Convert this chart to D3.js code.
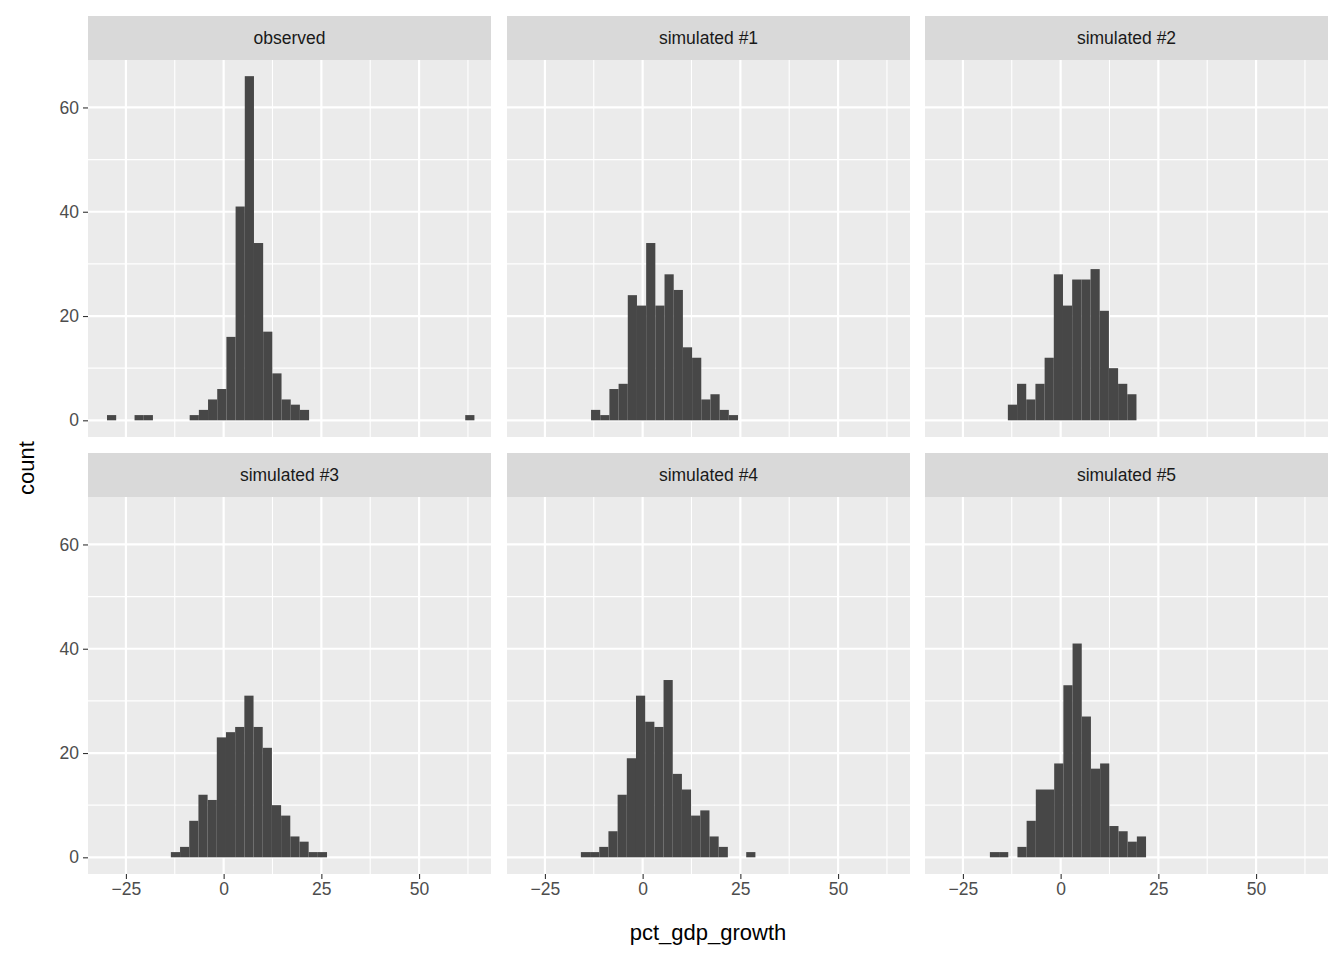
<!DOCTYPE html>
<html><head><meta charset="utf-8">
<script src="https://cdn.jsdelivr.net/npm/d3@7"></script>
<style>body{margin:0;background:#fff}</style>
</head><body>
<svg width="1344" height="960"></svg>
<script>
const panels = ["observed", "simulated #1", "simulated #2", "simulated #3", "simulated #4", "simulated #5"];
const binWidth = 2.35;
const binStarts = [-29.84, -13.2, -13.5, -13.5, -15.8, -18.1];
const counts = [
  [1,0,0,1,1,0,0,0,0,1,2,4,6,16,41,66,34,17,9,4,3,2,0,0,0,0,0,0,0,0,0,0,0,0,0,0,0,0,0,1],
  [2,1,6,7,24,22,34,22,28,25,14,12,4,5,2,1],
  [3,7,4,7,12,28,22,27,27,29,21,10,7,5],
  [1,2,7,12,11,23,24,25,31,25,21,10,8,4,3,1,1],
  [1,1,2,5,12,19,31,26,25,34,16,13,8,9,4,2,0,0,1],
  [1,1,0,2,7,13,13,18,33,41,27,17,18,6,5,3,4]
];
const xTicks = [-25, 0, 25, 50];
const yTicks = [0, 20, 40, 60];

const svg = d3.select("svg").attr("font-family", "Liberation Sans, Arial, sans-serif");
const colX = [88, 507, 925], pw = 403;
const rowY = [60, 497], ph = 377, stripH = 44;

const x = d3.scaleLinear().domain([-34.7, 68.4]).range([0, pw]);
const y = d3.scaleLinear().domain([-3.2, 69.1]).range([ph, 0]);

panels.forEach((name, i) => {
  const c = i % 3, r = Math.floor(i / 3);
  const g = svg.append("g").attr("transform", `translate(${colX[c]},${rowY[r]})`);
  g.append("rect").attr("width", pw).attr("height", ph).attr("fill", "#ebebeb");
  // minor grid
  g.selectAll(".mx").data(xTicks.map(t => t + 12.5).concat([-37.5])).join("line")
    .attr("x1", d => x(d)).attr("x2", d => x(d)).attr("y1", 0).attr("y2", ph)
    .attr("stroke", "#fff").attr("stroke-width", 1.1).filter(d => d < -34.7 || d > 68.4).remove();
  g.selectAll(".my").data([10, 30, 50]).join("line")
    .attr("x1", 0).attr("x2", pw).attr("y1", d => y(d)).attr("y2", d => y(d))
    .attr("stroke", "#fff").attr("stroke-width", 1.1);
  g.append("g").selectAll("line").data(xTicks).join("line")
    .attr("x1", d => x(d)).attr("x2", d => x(d)).attr("y1", 0).attr("y2", ph)
    .attr("stroke", "#fff").attr("stroke-width", 2.2);
  g.append("g").selectAll("line").data(yTicks).join("line")
    .attr("x1", 0).attr("x2", pw).attr("y1", d => y(d)).attr("y2", d => y(d))
    .attr("stroke", "#fff").attr("stroke-width", 2.2);
  // bars
  g.append("g").selectAll("rect").data(counts[i].map((v, k) => ({x0: binStarts[i] + k * binWidth, v})).filter(d => d.v > 0))
    .join("rect")
    .attr("x", d => x(d.x0)).attr("width", d => x(d.x0 + binWidth) - x(d.x0))
    .attr("y", d => y(d.v)).attr("height", d => y(0) - y(d.v))
    .attr("fill", "#474747");
  // strip
  svg.append("rect").attr("x", colX[c]).attr("y", rowY[r] - stripH).attr("width", pw).attr("height", stripH).attr("fill", "#d9d9d9");
  svg.append("text").attr("x", colX[c] + pw / 2).attr("y", rowY[r] - stripH / 2).attr("dy", "0.35em")
    .attr("text-anchor", "middle").attr("font-size", 17.5).attr("fill", "#1a1a1a").text(name);
  // axes
  if (c === 0) {
    const ya = g.append("g").call(d3.axisLeft(y).tickValues(yTicks).tickSize(5).tickPadding(4));
    ya.select(".domain").remove();
    ya.selectAll("line").attr("stroke", "#333").attr("stroke-width", 1.1);
    ya.selectAll("text").attr("font-size", 17.5).attr("fill", "#4d4d4d").attr("font-family", "Liberation Sans, Arial, sans-serif");
  }
  if (r === 1) {
    const xa = g.append("g").attr("transform", `translate(0,${ph})`).call(d3.axisBottom(x).tickValues(xTicks).tickSize(5).tickPadding(4));
    xa.select(".domain").remove();
    xa.selectAll("line").attr("stroke", "#333").attr("stroke-width", 1.1);
    xa.selectAll("text").attr("font-size", 17.5).attr("fill", "#4d4d4d").attr("font-family", "Liberation Sans, Arial, sans-serif");
  }
});

svg.append("text").attr("x", 708).attr("y", 940).attr("text-anchor", "middle").attr("font-size", 22).attr("fill", "#000").text("pct_gdp_growth");
svg.append("text").attr("transform", "translate(34,468) rotate(-90)").attr("text-anchor", "middle").attr("font-size", 22).attr("fill", "#000").text("count");
</script>
</body></html>
